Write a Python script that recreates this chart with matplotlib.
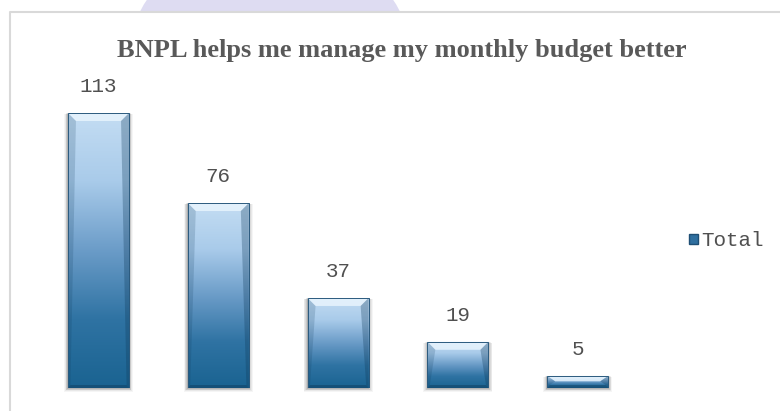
import matplotlib
matplotlib.use("Agg")
import matplotlib.pyplot as plt
import numpy as np
from matplotlib.patches import Rectangle, Polygon, Ellipse, Patch
from matplotlib.lines import Line2D
from matplotlib.colors import LinearSegmentedColormap

# ---- data ----
categories = ["1", "2", "3", "4", "5"]
values = [113, 76, 37, 19, 5]
series_name = "Total"
title = "BNPL helps me manage my monthly budget better"

W, H = 780, 411
fig = plt.figure(figsize=(W / 100, H / 100), dpi=100)
fig.patch.set_facecolor("white")

# faint watermark circle at top (page background)
fig.patches.append(Ellipse((270 / W, 1 - 80 / H), 2 * 147 / W, 2 * 147 / H,
                           transform=fig.transFigure, facecolor="#dedcf2",
                           edgecolor="none", zorder=0))
# chart area
fig.patches.append(Rectangle((10 / W, 0), 1 - 10 / W, 1 - 12 / H,
                             transform=fig.transFigure, facecolor="white",
                             edgecolor="none", zorder=1))
fig.lines.append(Line2D([10 / W, 10 / W, 1], [0, 1 - 12 / H, 1 - 12 / H],
                        transform=fig.transFigure, color="#d9d9d9", lw=1.5,
                        zorder=2))

# plot axes
ax_left, ax_w = 38.6, 599.0
ax_bot, ax_h = 23.0, 275.0
ax = fig.add_axes([ax_left / W, ax_bot / H, ax_w / W, ax_h / H])
ax.set_zorder(3)
ax.patch.set_alpha(0)
ax.set_xlim(-0.5, len(values) - 0.5)
ax.set_ylim(0, max(values))
ax.axis("off")

x = np.arange(len(values))
width = 0.51
px_x = (len(values)) / ax_w       # data units per pixel in x
px_y = max(values) / ax_h         # data units per pixel in y

cmap = LinearSegmentedColormap.from_list(
    "bar", ["#1a6391", "#2f73a3", "#6b9cc8", "#a9cbea", "#c4ddf3"])
grad = np.linspace(0, 1, 256).reshape(-1, 1)

bars = ax.bar(x, values, width=width, color="none", edgecolor="none", zorder=4)

for b, v in zip(bars, values):
    x0, x1 = b.get_x(), b.get_x() + b.get_width()
    h = b.get_height()
    # soft shadow
    for k, a in [(5, 0.04), (4, 0.05), (3, 0.06), (2, 0.08), (1, 0.10)]:
        ax.add_patch(Rectangle((x0 - k * px_x * 0.8, -k * px_y * 0.8),
                               (x1 - x0) + 2 * k * px_x * 0.8,
                               h + k * px_y * 0.6,
                               facecolor="#000000", alpha=a, edgecolor="none",
                               zorder=3, clip_on=False))
    im = ax.imshow(grad, extent=[x0, x1, 0, h], origin="lower", cmap=cmap,
                   aspect="auto", zorder=4, interpolation="bilinear")
    im.set_clip_path(b)
    bx = 8 * px_x
    by = min(8 * px_y, h * 0.45)
    # top bevel (light)
    ax.add_patch(Polygon([(x0, h), (x1, h), (x1 - bx, h - by), (x0 + bx, h - by)],
                         closed=True, facecolor="#e8f4fd", alpha=0.85,
                         edgecolor="none", zorder=5))
    # side edges (darker)
    sx = 2.5 * px_x
    sy = min(3 * px_y, h * 0.3)
    ax.add_patch(Polygon([(x0, h), (x0 + bx, h - by), (x0 + sx, sy), (x0, 0)],
                         closed=True, facecolor="#0f3a5a", alpha=0.18,
                         edgecolor="none", zorder=5))
    ax.add_patch(Polygon([(x1, h), (x1 - bx, h - by), (x1 - sx, sy), (x1, 0)],
                         closed=True, facecolor="#0f3a5a", alpha=0.30,
                         edgecolor="none", zorder=5))
    ax.add_patch(Polygon([(x0, 0), (x1, 0), (x1 - sx, sy), (x0 + sx, sy)],
                         closed=True, facecolor="#0f3a5a", alpha=0.45,
                         edgecolor="none", zorder=5))
    ax.add_patch(Rectangle((x0, 0), x1 - x0, h, facecolor="none",
                           edgecolor="#2b5a7e", lw=0.7, zorder=6))
    ax.text(b.get_x() + b.get_width() / 2, h + 7.0, str(v), ha="center",
            va="bottom", fontfamily="Liberation Mono", fontsize=15,
            color="#505050", zorder=7, clip_on=False)

# title
fig.text(401.5 / W, 1 - 57 / H, title, ha="center", va="baseline",
         fontfamily="Liberation Serif", fontweight="bold", fontsize=19,
         color="#595959", zorder=5)

# legend
leg = fig.legend(handles=[Patch(facecolor="#2f6f9f", edgecolor="#1f4f75")],
                 labels=[series_name], loc="center left",
                 bbox_to_anchor=(689 / W, 1 - 241 / H), frameon=False,
                 prop={"family": "Liberation Mono", "size": 15},
                 handlelength=0.42, handleheight=0.42, handletextpad=0.15,
                 borderpad=0, borderaxespad=0, labelcolor="#505050")
leg.set_zorder(6)

fig.savefig("out.png", dpi=100, facecolor="white")
